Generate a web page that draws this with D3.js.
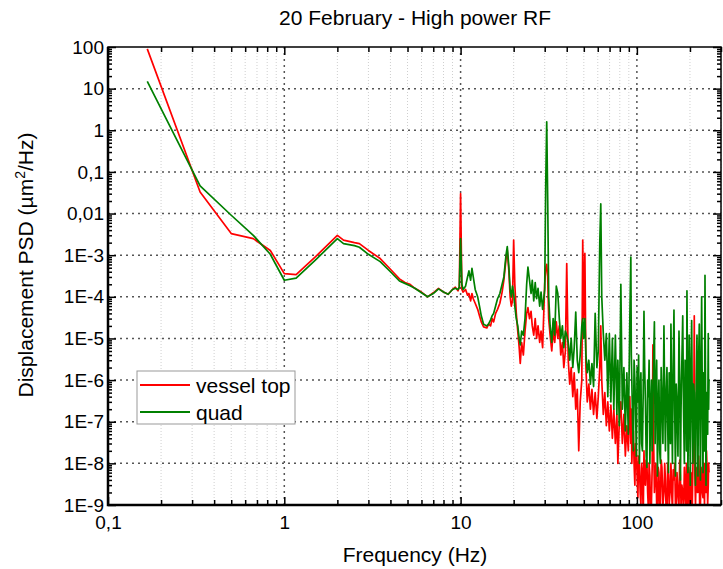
<!DOCTYPE html>
<html>
<head>
<meta charset="utf-8"/>
<script src="https://d3js.org/d3.v7.min.js"></script>
<style>
  body { margin: 0; background: #fff; }
  text { font-family: "Liberation Sans", Arial, sans-serif; fill: #000; }
</style>
</head>
<body>
<script>
// frequency points (Hz)
var freq = [
  0.167, 0.333, 0.5, 0.667, 0.833, 1.0, 1.167, 1.5, 2.0, 2.167,
  2.5, 2.667, 3.0, 3.5, 4.0, 4.5, 4.833, 5.167, 5.5, 6.0,
  6.5, 7.0, 7.5, 8.0, 8.5, 9.0, 9.333, 9.667, 9.833, 10.0,
  10.17, 10.33, 10.67, 10.95, 11.15, 11.4, 11.6, 11.8, 12.1, 12.5,
  12.8, 13.1, 13.5, 14.1, 14.4, 14.8, 15.1, 15.4, 15.8, 16.2,
  16.7, 17.2, 17.6, 18.1, 18.4, 18.8, 19.1, 19.4, 19.7, 20.0,
  20.3, 20.7, 21.1, 21.5, 21.8, 22.2, 22.7, 23.2, 23.7, 24.1,
  24.6, 25.1, 25.5, 26.0, 26.5, 27.0, 27.5, 28.1, 28.6, 29.2,
  30.0, 30.4, 30.8, 31.2, 31.6, 32.2, 32.9, 33.5, 34.2, 34.9,
  35.6, 36.3, 37.0, 37.8, 38.5, 39.3, 40.0, 40.8, 41.6, 42.4,
  43.3, 44.1, 45.0, 45.9, 46.8, 47.7, 48.7, 49.3, 49.9, 50.7,
  51.4, 52.3, 53.4, 54.5, 55.6, 56.8, 58.0, 59.3, 60.4, 61.6,
  62.4, 63.2, 64.5, 65.8, 67.1, 68.4, 69.8, 71.2, 72.6, 74.0,
  75.5, 77.0, 78.0, 79.5, 81.1, 82.7, 84.4, 86.0, 87.7, 89.4,
  91.2, 92.4, 93.0, 93.6, 94.5, 95.5, 96.4, 97.4, 98.3, 99.3,
  100.3, 101.3, 102.3, 103.4, 104.4, 105.4, 106.4, 107.5, 108.6, 109.7,
  110.7, 111.8, 112.9, 114.0, 115.1, 116.2, 117.3, 118.5, 119.7, 120.9,
  122.1, 123.3, 124.5, 125.7, 126.9, 128.2, 129.5, 130.8, 132.1, 133.4,
  134.7, 136.0, 137.3, 138.7, 140.5, 142.4, 143.8, 145.2, 146.6, 148.1,
  149.5, 151.0, 152.5, 154.0, 155.0, 156.0, 157.5, 159.1, 160.7, 162.3,
  163.9, 165.5, 167.1, 168.8, 171.0, 173.3, 175.0, 176.6, 178.0, 180.0,
  182.0, 183.9, 185.9, 187.7, 189.6, 191.0, 192.3, 193.5, 194.8, 196.3,
  197.9, 199.5, 201.0, 202.7, 204.5, 206.2, 208.0, 209.8, 211.6, 213.3,
  215.0, 217.1, 219.2, 220.6, 222.0, 224.0, 225.9, 227.6, 229.4, 231.2,
  233.0, 235.0, 237.1, 238.6, 240.2, 241.8, 243.4, 245.0, 246.6, 248.2,
  249.9, 252.0, 254.0, 255.2, 256.5
];

// displacement PSD, um^2/Hz
var vesselTop = [
  90, 0.033, 0.0033, 0.0025, 0.0013, 3.6e-4, 3.4e-4, 9.1e-4, 3.0e-3, 2.3e-3,
  2.0e-3, 1.9e-3, 1.3e-3, 8.3e-4, 4.6e-4, 2.7e-4, 2.2e-4, 2.0e-4, 1.6e-4, 1.3e-4,
  1.0e-4, 1.25e-4, 1.6e-4, 1.3e-4, 1.15e-4, 1.5e-4, 1.7e-4, 1.4e-4, 1.7e-4, 0.030,
  1.5e-4, 1.3e-4, 1.5e-4, 1.1e-4, 1.2e-4, 8e-5, 1.2e-4, 9e-5, 7e-5, 5e-5,
  3.5e-5, 2.5e-5, 1.9e-5, 1.8e-5, 2.2e-5, 2.0e-5, 3.0e-5, 2.5e-5, 4.0e-5, 5e-5,
  7e-5, 1.3e-4, 2.5e-4, 8e-4, 1.3e-3, 4e-4, 1.0e-4, 6e-5, 8e-5, 2.3e-3,
  2e-4, 4e-5, 1.5e-5, 6e-6, 2.5e-6, 8e-6, 4e-6, 1.5e-5, 4e-5, 5.5e-5,
  3e-5, 4.5e-5, 2e-5, 1.2e-5, 3e-5, 1e-5, 2e-5, 8e-6, 1.5e-5, 6e-6,
  2e-4, 5e-4, 6e-4, 3e-4, 3e-5, 1.2e-5, 5e-6, 1.5e-5, 8e-6, 2.5e-5,
  1e-5, 2e-5, 4e-6, 8e-6, 2e-6, 5e-6, 6.3e-4, 3e-6, 8e-7, 2e-6,
  4e-7, 1.5e-6, 2e-7, 6e-7, 2e-8, 3e-7, 1e-6, 2.3e-3, 3e-5, 1.1e-3,
  2e-6, 3e-7, 8e-7, 2e-7, 6e-7, 1.5e-7, 5e-7, 1.2e-7, 4e-7, 2e-6,
  2e-5, 1e-6, 1.5e-7, 5e-7, 8e-8, 3e-7, 6e-8, 2.5e-7, 4e-8, 2e-7,
  3e-8, 1.5e-7, 1e-8, 1e-7, 3e-7, 3e-8, 1.5e-7, 1.5e-8, 8e-8, 2e-8,
  4e-7, 3e-8, 2e-7, 1e-8, 4e-8, 6e-8, 1e-8, 3e-9, 3e-8, 2e-8,
  5e-9, 1.5e-9, 1.5e-8, 8e-9, 2e-9, 1e-9, 1e-8, 6e-9, 5e-10, 2e-8,
  4e-9, 3e-9, 1.2e-8, 1e-8, 2e-9, 8e-10, 1e-8, 5e-9, 3e-10, 1e-9,
  8e-9, 7e-6, 3e-8, 2e-9, 6e-9, 1e-8, 1e-9, 5e-10, 8e-9, 6e-9,
  5e-10, 1e-9, 1.2e-8, 8e-9, 1e-9, 2e-9, 1e-8, 4e-9, 6e-10, 5e-10,
  1e-8, 5e-9, 1e-9, 2e-9, 5e-9, 1e-8, 2e-9, 8e-10, 7e-9, 4e-9,
  1e-8, 1e-9, 3e-10, 6e-9, 2e-9, 1e-9, 1.2e-8, 5e-9, 1e-9, 3e-9,
  2e-9, 6e-10, 8e-9, 2e-9, 1e-9, 1e-8, 5e-9, 1e-9, 1e-9, 8e-9,
  6e-9, 1e-9, 5e-10, 6e-9, 4e-9, 1e-9, 1e-8, 3e-8, 3.5e-5, 5e-9,
  1e-9, 6e-9, 8e-9, 2e-9, 2e-9, 1.5e-8, 5e-9, 4e-10, 1e-9, 8e-9,
  6e-9, 2e-9, 1.5e-9, 1e-8, 5e-9, 1e-9, 1e-8, 3e-9, 2e-9, 2e-8,
  8e-9, 1e-9, 3e-9, 1e-8, 6e-9
];

var quad = [
  15, 0.046, 0.0091, 0.003, 0.00105, 2.5e-4, 2.8e-4, 7.6e-4, 2.5e-3, 1.9e-3,
  1.7e-3, 1.55e-3, 1.05e-3, 7.0e-4, 4.0e-4, 2.4e-4, 2.1e-4, 1.85e-4, 1.6e-4, 1.25e-4,
  1.0e-4, 1.2e-4, 1.55e-4, 1.3e-4, 1.15e-4, 1.5e-4, 1.6e-4, 1.5e-4, 1.7e-4, 2.5e-3,
  2.0e-4, 1.5e-4, 1.8e-4, 3.0e-4, 4.2e-4, 2.5e-4, 4.8e-4, 3.0e-4, 1.5e-4, 1.0e-4,
  6e-5, 3.5e-5, 2.2e-5, 2.0e-5, 2.2e-5, 2.8e-5, 3.5e-5, 4.0e-5, 6.0e-5, 9e-5,
  1.2e-4, 2.0e-4, 3.0e-4, 1.0e-3, 1.6e-3, 5e-4, 1.5e-4, 1.0e-4, 1.8e-4, 1.2e-4,
  6e-5, 3e-5, 2e-5, 1e-5, 7e-6, 1.5e-5, 1.2e-5, 3e-5, 2e-4, 5.2e-4,
  2.5e-4, 1.2e-4, 2.5e-4, 8e-5, 2.2e-4, 9e-5, 1.6e-4, 6e-5, 1.3e-4, 5e-5,
  1.5e-4, 0.05, 1.6, 0.02, 1e-4, 2e-5, 8e-6, 3e-5, 1.2e-5, 1.8e-4,
  1.2e-4, 3e-5, 1e-5, 2e-5, 6e-6, 1.5e-5, 1.2e-5, 8e-6, 3e-6, 1e-5,
  2e-6, 6e-6, 4.3e-5, 3e-6, 1.5e-6, 4e-6, 2e-5, 3e-5, 1e-5, 3e-5,
  4e-6, 1.5e-6, 3e-6, 8e-7, 2.5e-6, 7e-7, 4e-5, 2e-6, 5e-6, 2e-3,
  0.017, 1e-4, 1.3e-5, 3e-6, 1.3e-5, 4e-7, 1.3e-5, 3e-7, 1e-5, 2e-7,
  1.2e-5, 1.5e-7, 3e-6, 8e-8, 2e-4, 2e-7, 2e-6, 6e-8, 1.5e-6, 5e-8,
  3e-5, 9e-4, 4e-6, 1e-6, 1e-7, 2e-8, 3e-6, 1e-6, 2e-7, 1.5e-8,
  2e-6, 3e-7, 4e-6, 1e-8, 6e-7, 1.5e-6, 3e-8, 2e-8, 5e-7, 4.5e-5,
  2e-6, 3e-7, 1.5e-8, 8e-9, 1e-6, 4e-7, 3e-6, 1e-8, 2e-7, 1e-6,
  2e-8, 3e-7, 4e-6, 2.5e-5, 3e-8, 6e-7, 3e-6, 5e-9, 2e-7, 1e-6,
  2e-8, 1e-8, 2e-6, 4e-7, 3e-8, 2e-5, 3e-7, 2e-8, 5e-7, 2e-6,
  1e-7, 6e-9, 1.5e-6, 5e-7, 3e-8, 2.2e-5, 4e-7, 1e-8, 2e-6, 4.8e-5,
  2e-7, 5e-9, 8e-7, 3e-7, 1.5e-8, 1.5e-5, 1e-6, 4e-9, 2e-7, 3e-6,
  3.5e-5, 2e-7, 1e-8, 3e-6, 6e-7, 2e-8, 1.4e-4, 2e-6, 6e-9, 1e-7,
  1.2e-5, 5e-7, 3e-9, 2e-6, 2.7e-5, 2e-7, 1e-8, 8e-7, 5e-7, 4e-8,
  3e-9, 1e-6, 1.2e-5, 2e-7, 5e-9, 3e-6, 2.2e-5, 3e-7, 4e-9, 2e-6,
  1e-4, 4e-7, 6e-9, 1.5e-6, 8e-7, 2e-8, 3.3e-4, 1e-6, 3e-9, 5e-7,
  3e-7, 5e-8, 1.3e-5, 2e-7, 1e-6
];

var seriesNames = ["vessel top", "quad"];
var seriesColors = ["#ff0000", "#008000"];

var xTickValues = [0.1, 1, 10, 100];
var xTickLabels = ["0,1", "1", "10", "100"];
var yTickValues = [1e-9, 1e-8, 1e-7, 1e-6, 1e-5, 1e-4, 1e-3, 0.01, 0.1, 1, 10, 100];
var yTickLabels = ["1E-9", "1E-8", "1E-7", "1E-6", "1E-5", "1E-4", "1E-3", "0,01", "0,1", "1", "10", "100"];

// layout
var W = 723, H = 569;
var pL = 108, pR = 721, pT = 47, pB = 505;

var svg = d3.select("body").append("svg").attr("width", W).attr("height", H);

var x = d3.scaleLog().domain([0.1, 300]).range([pL, pR]);
var y = d3.scaleLog().domain([1e-9, 100]).range([pB, pT]);

// minor tick positions (2..9 per decade)
var xMinor = [], yMinor = [];
[0.1, 1, 10, 100].forEach(function(d) {
  for (var k = 2; k <= 9; k++) { if (d * k <= 300) xMinor.push(d * k); }
});
yTickValues.slice(0, -1).forEach(function(d) {
  for (var k = 2; k <= 9; k++) yMinor.push(d * k);
});

// grid
var grid = svg.append("g");
grid.selectAll(".xmin").data(xMinor).enter().append("line")
  .attr("x1", function(d) { return x(d); }).attr("x2", function(d) { return x(d); })
  .attr("y1", pT).attr("y2", pB)
  .attr("stroke", "#cfcfcf").attr("stroke-width", 1).attr("stroke-dasharray", "1,2");
grid.selectAll(".xmaj").data([1, 10, 100]).enter().append("line")
  .attr("x1", function(d) { return x(d); }).attr("x2", function(d) { return x(d); })
  .attr("y1", pT).attr("y2", pB)
  .attr("stroke", "#555").attr("stroke-width", 1.5).attr("stroke-dasharray", "2,4");
grid.selectAll(".ymaj").data(yTickValues.slice(1, -1)).enter().append("line")
  .attr("x1", pL).attr("x2", pR)
  .attr("y1", function(d) { return y(d); }).attr("y2", function(d) { return y(d); })
  .attr("stroke", "#555").attr("stroke-width", 1.5).attr("stroke-dasharray", "2,4");

// data lines
svg.append("clipPath").attr("id", "plotclip").append("rect")
  .attr("x", pL).attr("y", pT).attr("width", pR - pL).attr("height", pB - pT);

var line = d3.line()
  .x(function(d) { return x(d[0]); })
  .y(function(d) { return y(d[1]); });

[vesselTop, quad].forEach(function(vals, i) {
  svg.append("path")
    .datum(freq.map(function(f, j) { return [f, vals[j]]; }))
    .attr("clip-path", "url(#plotclip)")
    .attr("fill", "none")
    .attr("stroke", seriesColors[i])
    .attr("stroke-width", 1.7)
    .attr("stroke-linejoin", "round")
    .attr("d", line);
});

// axes, ticks pointing inward
function styleAxis(g) {
  g.select(".domain").remove();
  g.selectAll(".tick line").attr("stroke", "#000").attr("stroke-width", 1.5);
}
var fmtY = function(d) { return yTickLabels[yTickValues.indexOf(d)]; };
var fmtX = function(d) { return xTickLabels[xTickValues.indexOf(d)]; };

svg.append("g").attr("transform", "translate(" + pL + ",0)")
  .call(d3.axisLeft(y).tickValues(yTickValues).tickFormat(fmtY).tickSize(-8).tickPadding(4))
  .call(styleAxis)
  .selectAll("text").style("font-size", "19px").style("font-family", "Liberation Sans, Arial, sans-serif");
svg.append("g").attr("transform", "translate(" + pL + ",0)")
  .call(d3.axisLeft(y).tickValues(yMinor).tickFormat("").tickSize(-4)).call(styleAxis);
svg.append("g").attr("transform", "translate(" + pR + ",0)")
  .call(d3.axisRight(y).tickValues(yTickValues).tickFormat("").tickSize(-8)).call(styleAxis);
svg.append("g").attr("transform", "translate(" + pR + ",0)")
  .call(d3.axisRight(y).tickValues(yMinor).tickFormat("").tickSize(-4)).call(styleAxis);

svg.append("g").attr("transform", "translate(0," + pB + ")")
  .call(d3.axisBottom(x).tickValues(xTickValues).tickFormat(fmtX).tickSize(-8).tickPadding(11))
  .call(styleAxis)
  .selectAll("text").style("font-size", "19px").style("font-family", "Liberation Sans, Arial, sans-serif");
svg.append("g").attr("transform", "translate(0," + pB + ")")
  .call(d3.axisBottom(x).tickValues(xMinor).tickFormat("").tickSize(-5)).call(styleAxis);
svg.append("g").attr("transform", "translate(0," + pT + ")")
  .call(d3.axisTop(x).tickValues(xTickValues).tickFormat("").tickSize(-8)).call(styleAxis);
svg.append("g").attr("transform", "translate(0," + pT + ")")
  .call(d3.axisTop(x).tickValues(xMinor).tickFormat("").tickSize(-5)).call(styleAxis);

// frame
svg.append("rect").attr("x", pL).attr("y", pT)
  .attr("width", pR - pL).attr("height", pB - pT)
  .attr("fill", "none").attr("stroke", "#000").attr("stroke-width", 1.5);
svg.append("path").attr("d", "M" + pL + "," + pT + "V" + pB + "H" + pR)
  .attr("fill", "none").attr("stroke", "#000").attr("stroke-width", 2.5);

// titles
svg.append("text").attr("x", 415).attr("y", 25).attr("text-anchor", "middle")
  .style("font-size", "21px").text("20 February - High power RF");
svg.append("text").attr("x", 415).attr("y", 562).attr("text-anchor", "middle")
  .style("font-size", "21px").text("Frequency (Hz)");
var yl = svg.append("text").attr("transform", "translate(33,265) rotate(-90)")
  .attr("text-anchor", "middle").style("font-size", "21px");
yl.append("tspan").text("Displacement PSD (\u00b5m");
yl.append("tspan").attr("dy", -8).style("font-size", "14px").text("2");
yl.append("tspan").attr("dy", 8).text("/Hz)");

// legend
var lg = svg.append("g");
lg.append("rect").attr("x", 137).attr("y", 371).attr("width", 158).attr("height", 53)
  .attr("fill", "#fff").attr("stroke", "#999").attr("stroke-width", 1);
seriesNames.forEach(function(name, i) {
  var ly = 385 + i * 27;
  lg.append("line").attr("x1", 140).attr("x2", 190).attr("y1", ly).attr("y2", ly)
    .attr("stroke", seriesColors[i]).attr("stroke-width", 1.8);
  lg.append("text").attr("x", 196).attr("y", ly + 8).style("font-size", "21px").text(name);
});
</script>
</body>
</html>
